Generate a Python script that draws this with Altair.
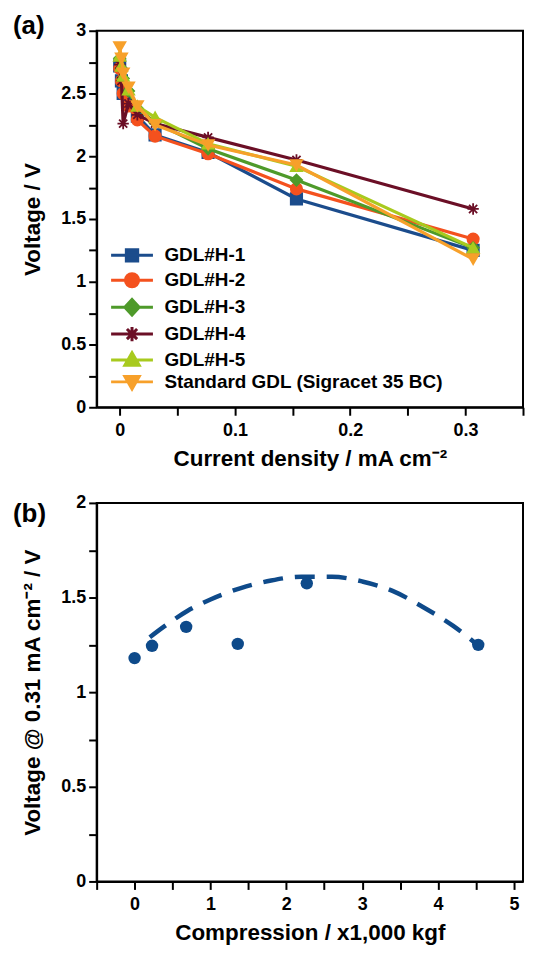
import altair as alt
import pandas as pd

# ---------------- data: panel (a) ----------------
series = ["GDL#H-1", "GDL#H-2", "GDL#H-3", "GDL#H-4", "GDL#H-5",
          "Standard GDL (Sigracet 35 BC)"]
colors = ["#1B4C8C", "#F4511E", "#4E9A2A", "#6B0F26", "#A8CA1E", "#F7A02A"]
current = [0, 0.0015, 0.003, 0.0076, 0.0153, 0.0307, 0.0767, 0.1534, 0.3067]
v_h1 = [2.72, 2.60, 2.50, 2.42, 2.32, 2.17, 2.03, 1.66, 1.25]
v_h2 = [2.70, 2.60, 2.50, 2.40, 2.29, 2.16, 2.02, 1.74, 1.34]
v_h3 = [2.78, 2.70, 2.62, 2.52, 2.38, 2.27, 2.06, 1.81, 1.27]
v_h4 = [2.73, 2.60, 2.26, 2.42, 2.33, 2.26, 2.15, 1.97, 1.58]
v_h5 = [2.80, 2.72, 2.64, 2.53, 2.40, 2.31, 2.10, 1.92, 1.27]
v_std = [2.87, 2.78, 2.66, 2.55, 2.40, 2.25, 2.09, 1.93, 1.18]
voltages = [v_h1, v_h2, v_h3, v_h4, v_h5, v_std]

x_ticks_a = [0, 0.05, 0.1, 0.15, 0.2, 0.25, 0.3, 0.35]
y_ticks_a = [0, 0.25, 0.5, 0.75, 1, 1.25, 1.5, 1.75, 2, 2.25, 2.5, 2.75, 3]

# ---------------- data: panel (b) ----------------
compression = [0, 0.23, 0.68, 1.36, 2.27, 4.53]
volt_b = [1.18, 1.245, 1.345, 1.255, 1.575, 1.25]
fit_x = [0.2, 0.4, 0.7, 1.0, 1.4, 1.8, 2.2, 2.6, 3.0, 3.4, 3.8, 4.2, 4.55]
fit_y = [1.29, 1.35, 1.43, 1.49, 1.55, 1.59, 1.61, 1.61, 1.585, 1.535, 1.45, 1.35, 1.24]
x_ticks_b = [-0.5, 0, 0.5, 1, 1.5, 2, 2.5, 3, 3.5, 4, 4.5, 5]
y_ticks_b = [0, 0.25, 0.5, 0.75, 1, 1.25, 1.5, 1.75, 2]

# ---------------- marker styles ----------------
plot_shapes = [
    "square", "circle", "diamond",
    "M-1,0L1,0M0,-1L0,1M-0.72,-0.72L0.72,0.72M-0.72,0.72L0.72,-0.72",
    "triangle-up", "triangle-down",
]
plot_filled = [True, True, True, False, True, True]
LEG_LINE = "M-1,0L6,0"
legend_markers = [
    "M1.55,-0.95L3.45,-0.95L3.45,0.95L1.55,0.95Z",
    "M1.4,0A1.1,1.1,0,1,0,3.6,0A1.1,1.1,0,1,0,1.4,0Z",
    "M2.5,-1.3L3.7,0L2.5,1.3L1.3,0Z",
    "M1.3,0L3.7,0M2.5,-1.2L2.5,1.2M1.65,-0.85L3.35,0.85M1.65,0.85L3.35,-0.85",
    "M2.5,-1.2L3.7,0.9L1.3,0.9Z",
    "M2.5,1.2L3.7,-0.9L1.3,-0.9Z",
]
legend_shapes = [LEG_LINE + m for m in legend_markers]

FONT = "Liberation Sans"
W = 428

rows = []
for s, vals in zip(series, voltages):
    for i, (c, v) in enumerate(zip(current, vals)):
        rows.append({"series": s, "current": c, "voltage": v, "idx": i})
df_a = pd.DataFrame(rows)

xa = alt.X("current:Q",
           scale=alt.Scale(domain=[-0.02, 0.35], nice=False, zero=False),
           axis=alt.Axis(values=x_ticks_a, title="Current density / mA cm⁻²",
                         labelExpr="(abs(datum.value*10 - round(datum.value*10)) < 0.001 && datum.value < 0.34) ? format(datum.value, '~g') : ''",
                         labelPadding=6, titlePadding=8))
ya = alt.Y("voltage:Q",
           scale=alt.Scale(domain=[0, 3], nice=False),
           axis=alt.Axis(values=y_ticks_a, title="Voltage / V",
                         labelExpr="(datum.value % 0.5 == 0) ? format(datum.value, '~g') : ''",
                         titlePadding=16))

cscale = alt.Scale(domain=series, range=colors)

series_layers = []
for s, shp, fl, col in zip(series, plot_shapes, plot_filled, colors):
    base = alt.Chart(df_a).transform_filter(alt.datum.series == s)
    series_layers.append(
        base.mark_line(strokeWidth=3.2, color=col).encode(x=xa, y=ya, order="idx:Q"))
    series_layers.append(
        base.mark_point(filled=fl, shape=shp, size=130, strokeWidth=1.8,
                        opacity=1, color=col, stroke=col).encode(x=xa, y=ya))

legend_layer = alt.Chart(df_a).mark_point(filled=True, opacity=0).encode(
    x=xa, y=ya,
    shape=alt.Shape("series:N", scale=alt.Scale(domain=series, range=legend_shapes),
                    legend=alt.Legend(title=None, orient="none", legendX=11, legendY=216,
                                      symbolSize=144, symbolStrokeWidth=3,
                                      symbolOpacity=1, labelOffset=38,
                                      rowPadding=-1, labelFontSize=19,
                                      labelFont=FONT, labelFontWeight="bold",
                                      labelColor="black", labelLimit=400)),
    fill=alt.Fill("series:N", scale=cscale),
    stroke=alt.Stroke("series:N", scale=cscale),
)

label_a = alt.Chart(pd.DataFrame({"t": ["(a)"]})).mark_text(
    font=FONT, fontWeight="bold", fontSize=26, align="left", baseline="middle",
    color="black").encode(text="t:N", x=alt.value(-84), y=alt.value(-5))

panel_a = alt.layer(*series_layers, legend_layer, label_a).properties(
    width=W, height=378)

# ---------------- panel (b) ----------------
df_b = pd.DataFrame({"compression": compression, "voltage": volt_b})
df_fit = pd.DataFrame({"compression": fit_x, "voltage": fit_y})

xb = alt.X("compression:Q",
           scale=alt.Scale(domain=[-0.5, 5.12], nice=False, zero=False),
           axis=alt.Axis(values=x_ticks_b, title="Compression / x1,000 kgf",
                         labelExpr="(datum.value % 1 == 0 && datum.value >= 0) ? format(datum.value, '~g') : ''",
                         labelPadding=6, titlePadding=8))
yb = alt.Y("voltage:Q",
           scale=alt.Scale(domain=[0, 2], nice=False),
           axis=alt.Axis(values=y_ticks_b, title="Voltage @ 0.31 mA cm⁻² / V",
                         labelExpr="(datum.value % 0.5 == 0) ? format(datum.value, '~g') : ''",
                         titlePadding=16))

fit_line = alt.Chart(df_fit).mark_line(
    color="#0E4A8A", strokeWidth=4.5, strokeDash=[20, 12], interpolate="monotone"
).encode(x=xb, y=yb)
dots = alt.Chart(df_b).mark_circle(size=155, color="#0E4A8A", opacity=1).encode(x=xb, y=yb)
label_b = alt.Chart(pd.DataFrame({"t": ["(b)"]})).mark_text(
    font=FONT, fontWeight="bold", fontSize=26, align="left", baseline="middle",
    color="black").encode(text="t:N", x=alt.value(-84), y=alt.value(11))

panel_b = alt.layer(fit_line, dots, label_b).properties(width=W, height=380)

chart = alt.vconcat(panel_a, panel_b, spacing=22).properties(
    padding={"left": 4, "top": 2, "right": 0, "bottom": 0}
).configure_view(
    stroke="black", strokeWidth=2
).configure_axis(
    domainColor="black", domainWidth=2, tickColor="black", tickWidth=2,
    tickSize=8, grid=False, labelFont=FONT, labelFontWeight="bold",
    labelFontSize=18, labelColor="black", titleFont=FONT,
    titleFontWeight="bold", titleFontSize=22.5, titleColor="black",
    labelPadding=3,
)

chart.save("out.html", embed_options={"renderer": "svg", "actions": False})
